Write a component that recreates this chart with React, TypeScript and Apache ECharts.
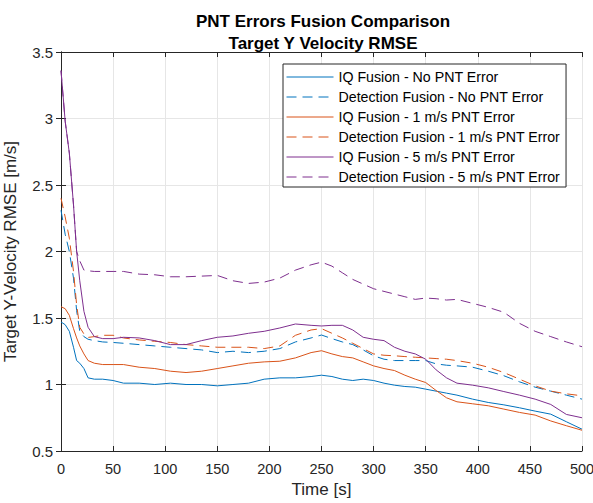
import React, { useEffect, useRef } from "react";
import * as echarts from "echarts";

const timeS = [0, 4, 8, 12, 15, 18, 22, 26, 32, 40, 50, 60, 75, 90, 105, 120, 135, 150, 165, 180, 195, 210, 225, 240, 250, 260, 270, 280, 290, 300, 310, 320, 330, 340, 350, 360, 370, 380, 395, 410, 425, 440, 455, 470, 485, 500];

const iqNoPnt = [1.47, 1.45, 1.40, 1.28, 1.18, 1.16, 1.12, 1.05, 1.04, 1.04, 1.03, 1.01, 1.01, 1.0, 1.01, 1.0, 1.0, 0.99, 1.0, 1.01, 1.04, 1.05, 1.05, 1.06, 1.07, 1.06, 1.04, 1.03, 1.04, 1.03, 1.01, 0.995, 0.985, 0.98, 0.965, 0.95, 0.935, 0.92, 0.89, 0.865, 0.847, 0.825, 0.80, 0.777, 0.72, 0.664];
const detNoPnt = [2.31, 2.13, 2.0, 1.80, 1.555, 1.40, 1.36, 1.34, 1.33, 1.32, 1.316, 1.31, 1.30, 1.29, 1.28, 1.27, 1.26, 1.24, 1.25, 1.24, 1.25, 1.27, 1.32, 1.35, 1.372, 1.345, 1.32, 1.30, 1.26, 1.216, 1.19, 1.18, 1.18, 1.18, 1.18, 1.155, 1.145, 1.14, 1.13, 1.10, 1.066, 1.02, 0.98, 0.95, 0.92, 0.89];
const iq1Pnt = [1.585, 1.57, 1.52, 1.42, 1.35, 1.29, 1.23, 1.18, 1.16, 1.15, 1.15, 1.15, 1.13, 1.12, 1.10, 1.09, 1.10, 1.12, 1.14, 1.16, 1.17, 1.175, 1.20, 1.24, 1.254, 1.23, 1.21, 1.20, 1.17, 1.14, 1.12, 1.105, 1.07, 1.04, 1.015, 0.955, 0.90, 0.87, 0.855, 0.84, 0.815, 0.79, 0.77, 0.726, 0.69, 0.656];
const det1Pnt = [2.40, 2.26, 2.10, 1.85, 1.60, 1.43, 1.38, 1.354, 1.36, 1.37, 1.37, 1.35, 1.335, 1.325, 1.316, 1.30, 1.29, 1.28, 1.28, 1.28, 1.27, 1.29, 1.37, 1.41, 1.42, 1.385, 1.35, 1.31, 1.27, 1.23, 1.22, 1.216, 1.21, 1.205, 1.20, 1.195, 1.19, 1.18, 1.16, 1.13, 1.09, 1.04, 0.99, 0.95, 0.93, 0.915];
const iq5Pnt = [3.36, 2.98, 2.74, 2.35, 2.0, 1.78, 1.55, 1.43, 1.36, 1.345, 1.345, 1.355, 1.35, 1.33, 1.30, 1.30, 1.33, 1.355, 1.365, 1.385, 1.40, 1.425, 1.455, 1.445, 1.44, 1.445, 1.445, 1.41, 1.355, 1.34, 1.33, 1.28, 1.25, 1.23, 1.19, 1.11, 1.05, 1.01, 0.995, 0.975, 0.947, 0.92, 0.89, 0.85, 0.775, 0.75];
const det5Pnt = [3.36, 2.98, 2.74, 2.35, 2.0, 1.93, 1.86, 1.855, 1.85, 1.85, 1.85, 1.85, 1.83, 1.825, 1.81, 1.81, 1.815, 1.82, 1.78, 1.76, 1.77, 1.80, 1.86, 1.90, 1.92, 1.89, 1.84, 1.79, 1.755, 1.72, 1.70, 1.68, 1.66, 1.64, 1.65, 1.645, 1.635, 1.64, 1.61, 1.58, 1.543, 1.46, 1.40, 1.36, 1.32, 1.284];

const seriesNames = [
  "IQ Fusion - No PNT Error",
  "Detection Fusion - No PNT Error",
  "IQ Fusion - 1 m/s PNT Error",
  "Detection Fusion - 1 m/s PNT Error",
  "IQ Fusion - 5 m/s PNT Error",
  "Detection Fusion - 5 m/s PNT Error",
];
const seriesValues = [iqNoPnt, detNoPnt, iq1Pnt, det1Pnt, iq5Pnt, det5Pnt];
const seriesColors = ["#0072BD", "#0072BD", "#D95319", "#D95319", "#7E2F8E", "#7E2F8E"];
const seriesDashed = [false, true, false, true, false, true];

const xTicks = { min: 0, max: 500, interval: 50 };
const yTicks = { min: 0.5, max: 3.5, interval: 0.5 };

const FONT = "'Liberation Sans', Arial, Helvetica, sans-serif";
const AXIS_COLOR = "#262626";

export default function App() {
  const ref = useRef<HTMLDivElement>(null);
  useEffect(() => {
    if (!ref.current) return;
    const chart = echarts.init(ref.current, null, { renderer: "svg" });
    const series = seriesNames.map((name, i) => ({
      name,
      type: "line",
      xAxisIndex: 0,
      yAxisIndex: 0,
      symbol: "none",
      data: timeS.map((t, j) => [t, seriesValues[i][j]]),
      lineStyle: {
        color: seriesColors[i],
        width: 1,
        type: seriesDashed[i] ? [10, 6] : "solid",
      },
      itemStyle: { color: seriesColors[i] },
      z: 3,
    }));
    const baseX = {
      type: "value",
      min: xTicks.min,
      max: xTicks.max,
      interval: xTicks.interval,
      axisLine: { show: true, lineStyle: { color: AXIS_COLOR, width: 1 } },
      axisTick: { show: true, inside: true, length: 5, lineStyle: { color: AXIS_COLOR } },
    };
    const baseY = {
      type: "value",
      min: yTicks.min,
      max: yTicks.max,
      interval: yTicks.interval,
      axisLine: { show: true, lineStyle: { color: AXIS_COLOR, width: 1 } },
      axisTick: { show: true, inside: true, length: 5, lineStyle: { color: AXIS_COLOR } },
    };
    chart.setOption({
      animation: false,
      backgroundColor: "#ffffff",
      title: {
        text: "PNT Errors Fusion Comparison\nTarget Y Velocity RMSE",
        left: 318,
        top: 5,
        textAlign: "center",
        textStyle: {
          fontFamily: FONT,
          fontSize: 17,
          fontWeight: "bold",
          color: "#000000",
          lineHeight: 22,
        },
      },
      grid: {
        left: 61,
        right: 11,
        top: 52,
        bottom: 52,
        show: false,
        containLabel: false,
        outerBoundsMode: "none",
      },
      legend: {
        orient: "vertical",
        left: 283,
        top: 64,
        data: seriesNames,
        backgroundColor: "#ffffff",
        borderColor: AXIS_COLOR,
        borderWidth: 1,
        borderRadius: 0,
        padding: [6, 6, 3, 3],
        itemGap: 6,
        itemWidth: 47,
        itemHeight: 14,
        itemStyle: { opacity: 0 },
        lineStyle: { width: 1 },
        textStyle: { fontFamily: FONT, fontSize: 14.2, color: "#000000" },
        selectedMode: false,
      },
      xAxis: [
        {
          ...baseX,
          position: "bottom",
          name: "Time [s]",
          nameLocation: "middle",
          nameGap: 30,
          nameTextStyle: { fontFamily: FONT, fontSize: 17, color: AXIS_COLOR },
          axisLabel: { fontFamily: FONT, fontSize: 14.5, color: AXIS_COLOR, margin: 10 },
          splitLine: { show: true, lineStyle: { color: "#e6e6e6", width: 1 } },
        },
        {
          ...baseX,
          position: "top",
          axisLabel: { show: false },
          splitLine: { show: false },
        },
      ],
      yAxis: [
        {
          ...baseY,
          position: "left",
          name: "Target Y-Velocity RMSE [m/s]",
          nameLocation: "middle",
          nameGap: 42,
          nameTextStyle: { fontFamily: FONT, fontSize: 17, color: AXIS_COLOR },
          axisLabel: { fontFamily: FONT, fontSize: 15, color: AXIS_COLOR, margin: 8 },
          splitLine: { show: true, lineStyle: { color: "#e6e6e6", width: 1 } },
        },
        {
          ...baseY,
          position: "right",
          axisLabel: { show: false },
          splitLine: { show: false },
        },
      ],
      series,
    });
    return () => chart.dispose();
  }, []);
  return <div ref={ref} style={{ width: 593, height: 503, position: "absolute", left: 0, top: 0 }} />;
}
